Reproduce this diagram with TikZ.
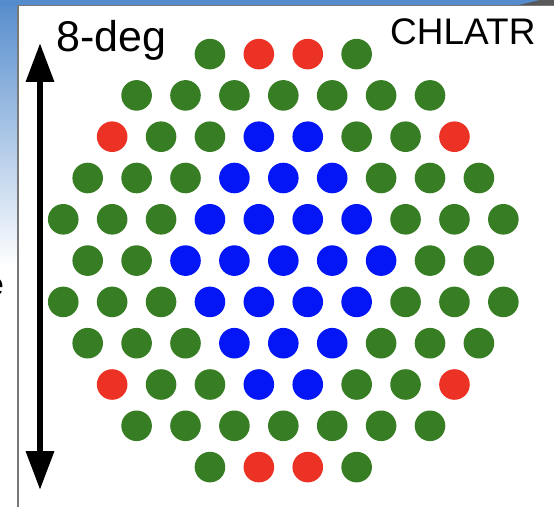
\documentclass[tikz,border=0pt]{standalone}
\usepackage{fontspec}
\setmainfont{Liberation Sans}
\usetikzlibrary{arrows.meta}
\definecolor{cg}{RGB}{55,125,35}
\definecolor{cr}{RGB}{236,50,36}
\definecolor{cb}{RGB}{4,22,246}
\definecolor{sky}{RGB}{85,140,205}
\definecolor{framegray}{RGB}{120,120,120}
\begin{document}
\begin{tikzpicture}[x=1pt,y=1pt,
  dot/.style={circle,inner sep=0pt,minimum size=30.6pt,draw=none},
  lbl/.style={inner sep=0pt,text=black},
  bigarrow/.style={line width=6.5pt,{Triangle[length=39pt,width=27pt]}-{Triangle[length=39pt,width=27pt]}}]
\useasboundingbox (0,0) rectangle (554,507);
% background behind the panel
\fill[white] (0,0) rectangle (554,507);
\shade[top color=sky, bottom color=white] (0,507) rectangle (18,240);
\fill[sky] (0,501) rectangle (554,507);
\fill[gray!70!black] (515,501) -- (540,507) -- (554,507) -- (554,501) -- cycle;
\node[lbl, anchor=base east, font=\fontsize{32}{32}\selectfont] (etext) at (4,212) {e};
% panel
\fill[white] (18,0) rectangle (554,501);
\draw[framegray, line width=1.5pt] (18,0) -- (18,501.5) -- (554,501.5);
% arrow
\coordinate (atop) at (40,464);
\coordinate (abot) at (40,17);
\draw[bigarrow] (abot) -- (atop);
% labels
\node[lbl, anchor=base west, font=\fontsize{43}{43}\selectfont] (deg) at (56,455.3) {8-deg};
\node[lbl, anchor=base west, font=\fontsize{37}{37}\selectfont] (chl) at (390,462) {CHLATR};
% dots
\foreach \r/\n/\cols in {
  -5/4/{g,r,r,g},
  -4/7/{g,g,g,g,g,g,g},
  -3/8/{r,g,g,b,b,g,g,r},
  -2/9/{g,g,g,b,b,b,g,g,g},
  -1/10/{g,g,g,b,b,b,b,g,g,g},
  0/9/{g,g,b,b,b,b,b,g,g},
  1/10/{g,g,g,b,b,b,b,g,g,g},
  2/9/{g,g,g,b,b,b,g,g,g},
  3/8/{r,g,g,b,b,g,g,r},
  4/7/{g,g,g,g,g,g,g},
  5/4/{g,r,r,g}}{
  \foreach \c [count=\i] in \cols {
    \node[dot, fill=c\c] (d\r-\i) at ({283.3+(\i-(\n+1)/2)*48.9}, {246.4-\r*41.3}) {};
  }
}
\end{tikzpicture}
\end{document}
